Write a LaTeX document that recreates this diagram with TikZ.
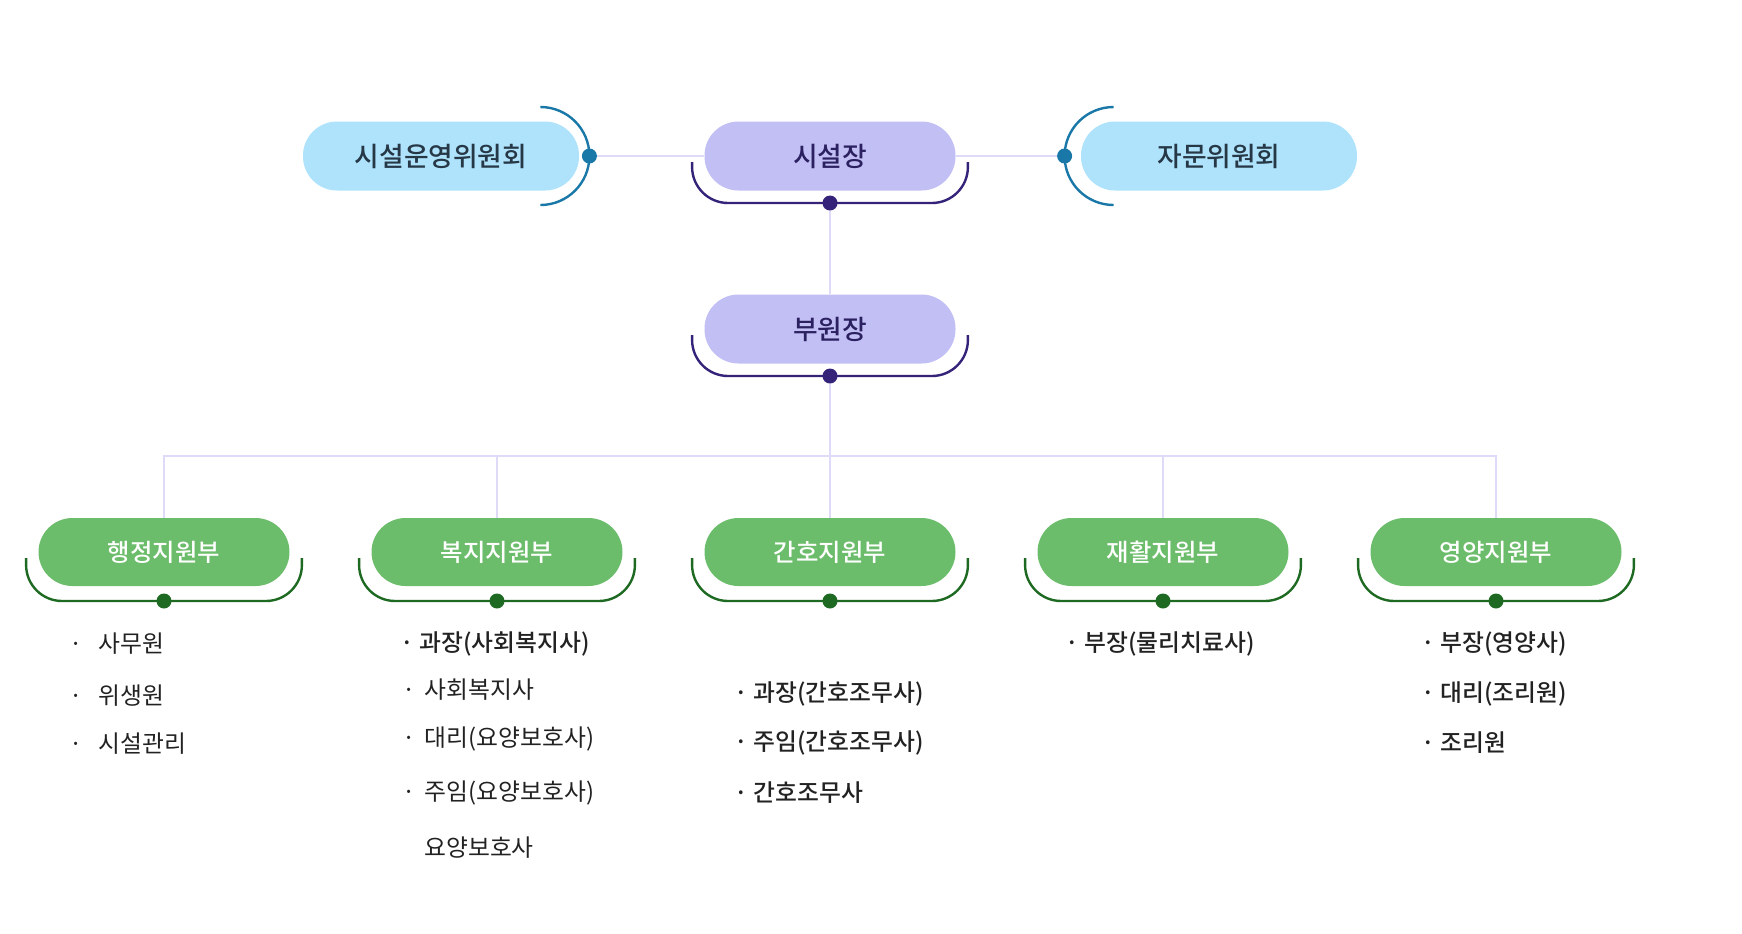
\documentclass[tikz,border=0pt]{standalone}
\usepackage{fontspec}
\setmainfont{Noto Sans CJK KR}
\newfontfamily\medfont{Noto Sans CJK KR Medium}
\usepackage{tikz}
\usetikzlibrary{positioning}

\definecolor{bluefill}{HTML}{AEE3FB}
\definecolor{bluetext}{HTML}{263746}
\definecolor{blueline}{HTML}{1978A8}
\definecolor{purplefill}{HTML}{C2BFF5}
\definecolor{purpletext}{HTML}{2B2160}
\definecolor{purpleline}{HTML}{35237A}
\definecolor{greenfill}{HTML}{6CBD6B}
\definecolor{greenline}{HTML}{1F6A22}
\definecolor{linkcol}{HTML}{DEDAF8}
\definecolor{listtext}{HTML}{222222}

\begin{document}
\begin{tikzpicture}[x=0.5pt,y=-0.5pt,node distance=166.5pt]
                \tikzstyle{bluepill} = [rectangle, rounded corners=17pt, minimum width=138pt, minimum height=34.5pt, text centered, fill=bluefill, text=bluetext, font=\fontsize{13.4}{15}\medfont]
                \tikzstyle{purplepill} = [rectangle, rounded corners=17pt, minimum width=125.5pt, minimum height=34.5pt, text centered, fill=purplefill, text=purpletext, font=\fontsize{13.4}{15}\medfont]
                \tikzstyle{greenpill} = [rectangle, rounded corners=17pt, minimum width=125.5pt, minimum height=34pt, text centered, fill=greenfill, text=white, font=\fontsize{12.2}{14}\medfont]
                \tikzstyle{bbrack} = [blueline, line width=1.2pt]
                \tikzstyle{pbrack} = [purpleline, line width=1.2pt, rounded corners=18pt]
                \tikzstyle{gbrack} = [greenline, line width=1.2pt, rounded corners=18pt]
                \tikzstyle{dotnode} = [circle, inner sep=0pt, minimum size=7.5pt]
                \tikzstyle{link} = [linkcol, line width=1pt]
                \tikzstyle{listitem} = [anchor=west, inner sep=0pt, text=listtext, font=\fontsize{11.9}{14}\selectfont]
                \tikzstyle{listbold} = [listitem, font=\fontsize{11.9}{14}\medfont]
                \useasboundingbox (0,0) rectangle (1742,933);

                % top row
                \node (committee) [bluepill] at (441,156) {시설운영위원회};
                \node (chief) [purplepill] at (830,156) {시설장};
                \node (advisory) [bluepill] at (1219,156) {자문위원회};
                \node (vice) [purplepill] at (830,329) {부원장};

                % departments
                \node (admin) [greenpill] at (164,552) {행정지원부};
                \node (welfare) [greenpill, right of=admin] {복지지원부};
                \node (nursing) [greenpill, right of=welfare] {간호지원부};
                \node (rehab) [greenpill, right of=nursing] {재활지원부};
                \node (nutri) [greenpill, right of=rehab] {영양지원부};

                % side brackets
                \draw [bbrack] ([shift={(-19.5pt,24.5pt)}]committee.east) arc[start angle=90, end angle=-90, radius=24.5pt];
                \node (committee-dot) [dotnode, fill=blueline] at ([xshift=5pt]committee.east) {};
                \draw [bbrack] ([shift={(16.5pt,24.5pt)}]advisory.west) arc[start angle=90, end angle=270, radius=24.5pt];
                \node (advisory-dot) [dotnode, fill=blueline] at ([xshift=-8pt]advisory.west) {};

                % under brackets
                \foreach \p in {chief,vice} {
                    \draw [pbrack] ([shift={(-6pt,-3pt)}]\p.west) -- ([shift={(-6pt,-23.5pt)}]\p.west) -- ([shift={(6pt,-23.5pt)}]\p.east) -- ([shift={(6pt,-3pt)}]\p.east);
                    \node (\p-dot) [dotnode, fill=purpleline] at ([yshift=-23.5pt]\p.center) {};
                }
                \foreach \g in {admin,welfare,nursing,rehab,nutri} {
                    \draw [gbrack] ([shift={(-6pt,-3pt)}]\g.west) -- ([shift={(-6pt,-24.5pt)}]\g.west) -- ([shift={(6pt,-24.5pt)}]\g.east) -- ([shift={(6pt,-3pt)}]\g.east);
                    \node (\g-dot) [dotnode, fill=greenline] at ([yshift=-24.5pt]\g.center) {};
                }

                % connectors
                \coordinate (bus) at (830,456);
                \draw [link] (committee-dot) -- (chief);
                \draw [link] (chief) -- (advisory-dot);
                \draw [link] (chief-dot) -- (vice);
                \draw [link] (vice-dot) -- (bus);
                \foreach \g in {admin,welfare,nursing,rehab,nutri}
                    \draw [link] (bus) -| (\g);

                % lists
                \node (admin-1) [listitem] at (69,644) {·\hspace{8pt}사무원};
                \node (admin-2) [listitem] at (69,696) {·\hspace{8pt}위생원};
                \node (admin-3) [listitem] at (69,744) {·\hspace{8pt}시설관리};

                \node (welfare-1) [listbold] at (400,644) {· 과장(사회복지사)};
                \node (welfare-2) [listitem] at (402,690) {·\hspace{4.5pt}사회복지사};
                \node (welfare-3) [listitem] at (402,739) {·\hspace{4.5pt}대리(요양보호사)};
                \node (welfare-4) [listitem] at (402,793) {·\hspace{4.5pt}주임(요양보호사)};
                \node (welfare-5) [listitem] at (424,848) {요양보호사};

                \node (nursing-1) [listbold] at (734,694) {· 과장(간호조무사)};
                \node (nursing-2) [listbold] at (734,743) {· 주임(간호조무사)};
                \node (nursing-3) [listbold] at (734,793) {· 간호조무사};

                \node (rehab-1) [listbold] at (1065,644) {· 부장(물리치료사)};

                \node (nutri-1) [listbold] at (1421,644) {· 부장(영양사)};
                \node (nutri-2) [listbold] at (1421,694) {· 대리(조리원)};
                \node (nutri-3) [listbold] at (1421,743) {· 조리원};
            \end{tikzpicture}
\end{document}
